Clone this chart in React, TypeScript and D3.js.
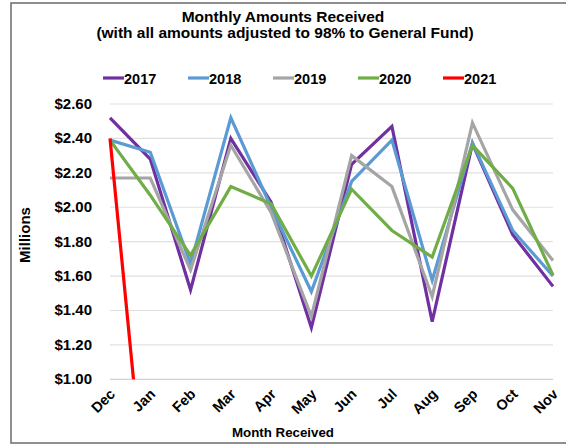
import React, { useEffect, useRef } from "react";
import * as d3 from "d3";

const months = ["Dec", "Jan", "Feb", "Mar", "Apr", "May", "Jun", "Jul", "Aug", "Sep", "Oct", "Nov"];
const years = ["2017", "2018", "2019", "2020", "2021"];
const yTicks = [1.0, 1.2, 1.4, 1.6, 1.8, 2.0, 2.2, 2.4, 2.6];

const v2017 = [2.52, 2.28, 1.52, 2.4, 2.03, 1.3, 2.25, 2.47, 1.335, 2.37, 1.84, 1.54];
const v2018 = [2.39, 2.32, 1.67, 2.52, 2.0, 1.51, 2.15, 2.39, 1.575, 2.375, 1.865, 1.6];
const v2019 = [2.17, 2.17, 1.635, 2.36, 1.97, 1.365, 2.3, 2.12, 1.48, 2.49, 1.985, 1.69];
const v2020 = [2.39, 2.07, 1.72, 2.12, 2.02, 1.6, 2.105, 1.865, 1.71, 2.36, 2.11, 1.605];
const v2021 = [2.4, 0];

const colors = ["#7030A0", "#5B9BD5", "#A5A5A5", "#70AD47", "#FF0000"];

const App = () => {
  const svgRef = useRef<SVGSVGElement>(null);

  useEffect(() => {
    document.body.style.margin = "0";
    const width = 566;
    const height = 445;
    const font = "'Liberation Sans', Arial, sans-serif";

    const svg = d3.select(svgRef.current);
    svg.selectAll("*").remove();
    svg.attr("width", width).attr("height", height).style("font-family", font);

    svg.append("rect").attr("width", width).attr("height", height).attr("fill", "white");

    // outer frame
    svg
      .append("rect")
      .attr("x", 11)
      .attr("y", 3)
      .attr("width", width + 20)
      .attr("height", 440)
      .attr("fill", "none")
      .attr("stroke", "#6b6b6b")
      .attr("stroke-width", 1.5);

    const x = d3.scalePoint().domain(months).range([110, 553]);
    const y = d3.scaleLinear().domain([1, 2.6]).range([379.3, 104]);

    // gridlines
    svg
      .append("g")
      .selectAll("line")
      .data(yTicks)
      .enter()
      .append("line")
      .attr("x1", 110)
      .attr("x2", 553)
      .attr("y1", (d) => y(d))
      .attr("y2", (d) => y(d))
      .attr("stroke", (d) => (d === 1 ? "#d0d0d0" : "#e0e0e0"))
      .attr("stroke-width", 1.2);

    // y labels
    svg
      .append("g")
      .selectAll("text")
      .data(yTicks)
      .enter()
      .append("text")
      .attr("x", 92)
      .attr("y", (d) => y(d) + 5)
      .attr("text-anchor", "end")
      .style("font-size", "15px")
      .style("font-weight", "bold")
      .text((d) => "$" + d.toFixed(2));

    svg
      .append("text")
      .attr("transform", "translate(30,235) rotate(-90)")
      .attr("text-anchor", "middle")
      .style("font-size", "15px")
      .style("font-weight", "bold")
      .text("Millions");

    // x labels
    svg
      .append("g")
      .selectAll("text")
      .data(months)
      .enter()
      .append("text")
      .attr("transform", (d) => `translate(${(x(d) as number) + 6},${395}) rotate(-45)`)
      .attr("text-anchor", "end")
      .style("font-size", "14.5px")
      .style("font-weight", "bold")
      .text((d) => d);

    svg
      .append("text")
      .attr("x", 283)
      .attr("y", 437)
      .attr("text-anchor", "middle")
      .style("font-size", "13.3px")
      .style("font-weight", "bold")
      .text("Month Received");

    // lines
    svg
      .append("defs")
      .append("clipPath")
      .attr("id", "plotClip")
      .append("rect")
      .attr("x", 100)
      .attr("y", 95)
      .attr("width", 465)
      .attr("height", 379.3 - 95);

    const series = [v2017, v2018, v2019, v2020, v2021];
    const line = d3
      .line<number>()
      .x((_, i) => x(months[i]) as number)
      .y((d) => y(d));

    const lines = svg.append("g").attr("clip-path", "url(#plotClip)");
    series.forEach((vals, i) => {
      lines
        .append("path")
        .attr("d", line(vals))
        .attr("fill", "none")
        .attr("stroke", colors[i])
        .attr("stroke-width", 3.2)
        .attr("stroke-linejoin", "miter");
    });

    // title
    svg
      .append("text")
      .attr("x", 283)
      .attr("y", 22)
      .attr("text-anchor", "middle")
      .style("font-size", "15.5px")
      .style("font-weight", "bold")
      .text("Monthly Amounts Received");
    svg
      .append("text")
      .attr("x", 285)
      .attr("y", 38)
      .attr("text-anchor", "middle")
      .style("font-size", "15.5px")
      .style("font-weight", "bold")
      .text("(with all amounts adjusted to 98% to General Fund)");

    // legend
    const legend = svg.append("g").attr("transform", "translate(103,78)");
    years.forEach((yr, i) => {
      legend
        .append("line")
        .attr("x1", i * 85)
        .attr("x2", i * 85 + 21)
        .attr("y1", 0)
        .attr("y2", 0)
        .attr("stroke", colors[i])
        .attr("stroke-width", 3.2);
      legend
        .append("text")
        .attr("x", i * 85 + 21)
        .attr("y", 5.5)
        .style("font-size", "14.5px")
        .style("font-weight", "bold")
        .text(yr);
    });
  }, []);

  return <svg ref={svgRef}></svg>;
};

export default App;
